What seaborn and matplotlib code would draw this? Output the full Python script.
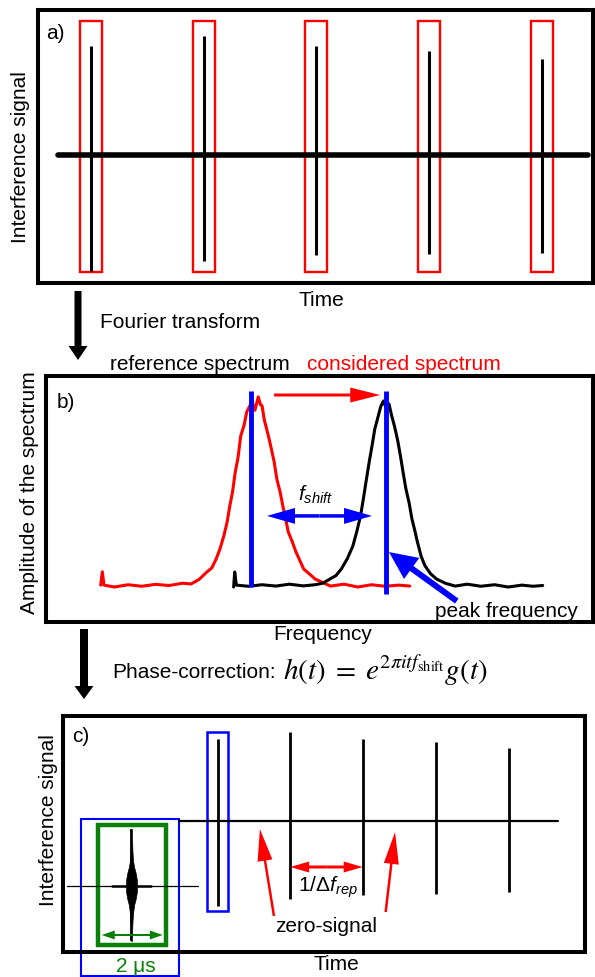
import matplotlib
matplotlib.use("Agg")
import matplotlib.pyplot as plt
import pandas as pd
import seaborn as sns
from matplotlib.patches import Rectangle, FancyArrow

# ---------------- data ----------------
# panel a: interferograms (time, signal)
a_peak_times = [0.96, 2.99, 5.01, 7.05, 9.08]
a_peak_top = [1.09, 1.19, 1.09, 1.04, 0.96]
a_peak_bottom = [-1.16, -1.06, -1.00, -0.99, -0.98]
a_base_t = [0.36, 9.91]
a_base_v = [0.0, 0.0]

# panel b: spectra (frequency, amplitude)
cons_freq = [10.0, 10.3, 10.6, 12.5, 15.0, 17.5, 20.0, 22.5, 25.0, 26.5,
             28.0, 29.4, 30.3, 31.1, 31.8, 32.5, 33.1, 33.6, 34.1, 34.6,
             35.1, 35.6, 36.2, 36.7, 37.2, 37.7, 38.2, 38.8, 39.2, 39.5,
             39.9, 40.2, 40.7, 41.2, 41.7, 42.2, 42.8, 43.3, 43.8, 44.3,
             45.0, 45.7, 46.4, 47.1, 48.1, 49.2, 50.5, 52.0, 54.5, 57.0,
             59.5, 62.0, 64.5, 66.5]
cons_amp = [0.01, 0.08, 0.01, 0.0, 0.012, 0.004, 0.014, 0.008, 0.02, 0.016,
            0.04, 0.079, 0.10, 0.147, 0.20, 0.268, 0.34, 0.426, 0.50, 0.605,
            0.68, 0.795, 0.85, 0.921, 0.95, 0.974, 0.93, 1.0, 0.96, 0.953,
            0.88, 0.847, 0.79, 0.726, 0.66, 0.568, 0.50, 0.426, 0.36, 0.289,
            0.24, 0.184, 0.14, 0.095, 0.07, 0.042, 0.025, 0.005, 0.015, 0.0,
            0.012, 0.004, 0.01, 0.005]
ref_freq = [34.3, 34.5, 34.8, 37.0, 39.5, 42.0, 44.5, 47.0, 49.2, 50.6,
            51.9, 53.0, 54.0, 55.1, 56.1, 56.8, 57.5, 58.0, 58.5, 59.1,
            59.6, 60.1, 60.6, 61.2, 61.7, 62.2, 62.7, 63.2, 63.7, 64.3,
            64.8, 65.3, 65.8, 66.4, 66.9, 67.4, 67.9, 68.6, 69.3, 70.3,
            71.4, 73.0, 74.8, 77.0, 79.5, 82.0, 84.5, 87.0, 89.0, 90.8]
ref_amp = [0.0, 0.079, 0.01, 0.004, 0.012, 0.005, 0.015, 0.006, 0.012, 0.02,
           0.042, 0.06, 0.095, 0.15, 0.216, 0.29, 0.374, 0.46, 0.553, 0.66,
           0.742, 0.83, 0.884, 0.95, 0.979, 0.94, 0.963, 0.90, 0.847, 0.77,
           0.689, 0.60, 0.516, 0.44, 0.358, 0.30, 0.237, 0.16, 0.111, 0.07,
           0.042, 0.02, 0.005, 0.015, 0.004, 0.012, 0.0, 0.01, 0.004, 0.008]
b_peak_freqs = [37.5, 62.2]

# panel c: corrected interferograms
c_peak_times = [2.97, 4.36, 5.75, 7.15, 8.55]
c_peak_top = [0.82, 0.89, 0.82, 0.79, 0.73]
c_peak_bottom = [-0.85, -0.78, -0.74, -0.73, -0.71]
c_base_t = [2.23, 9.49]
c_base_v = [0.0, 0.0]
# zoomed interferogram (inset)
inset_t = [0.08, 2.59]
inset_v = [-0.65, -0.65]
burst_center = 1.32
burst_v = [-0.08, -0.20, -0.30, -0.40, -0.46, -0.52, -0.58, -0.65,
           -0.72, -0.78, -0.84, -0.92, -1.00, -1.10, -1.20]
burst_hw = [0.006, 0.012, 0.018, 0.03, 0.05, 0.08, 0.10, 0.11,
            0.10, 0.08, 0.05, 0.03, 0.02, 0.012, 0.006]

# ---------------- style ----------------
sns.set_theme(style="white")
plt.rcParams["font.family"] = ["Liberation Sans", "DejaVu Sans"]
plt.rcParams["text.color"] = "black"
plt.rcParams["axes.labelcolor"] = "black"
plt.rcParams["mathtext.fontset"] = "custom"
plt.rcParams["mathtext.it"] = "Liberation Sans:italic"
plt.rcParams["mathtext.rm"] = "Liberation Sans"
plt.rcParams["mathtext.bf"] = "Liberation Sans:bold"

RED, BLUE, GREEN = "#ff0000", "#0000ff", "#0a800a"
FS = 15
W, H = 595, 978
fig = plt.figure(figsize=(W / 100, H / 100), dpi=100)


def axes_px(x0, y0, x1, y1):
    return fig.add_axes([x0 / W, 1 - y1 / H, (x1 - x0) / W, (y1 - y0) / H])


axA = axes_px(38, 11, 593, 284)
axB = axes_px(46, 377, 593, 623)
axC = axes_px(62.6, 717, 584.5, 953)
axA.set_xlim(0, 10); axA.set_ylim(-1.28, 1.45)
axB.set_xlim(0, 100); axB.set_ylim(-0.184, 1.11)
axC.set_xlim(0, 10); axC.set_ylim(-1.31, 1.05)

for ax in (axA, axB, axC):
    ax.set_xticks([]); ax.set_yticks([])
    for s in ax.spines.values():
        s.set_visible(True); s.set_color("black"); s.set_linewidth(2.9)
    ax.set_facecolor("white")

ov = fig.add_axes([0, 0, 1, 1], zorder=10)
ov.set_xlim(0, W); ov.set_ylim(H, 0); ov.axis("off"); ov.patch.set_alpha(0)


def to_px(ax, x, y):
    X, Y = ax.transData.transform((x, y))
    return X, H - Y


def arrow(p0, p1, width, hw, hl, color):
    ov.add_patch(FancyArrow(p0[0], p0[1], p1[0] - p0[0], p1[1] - p0[1], width=width,
                            head_width=hw, head_length=hl, length_includes_head=True,
                            color=color, lw=0))


def darrow(ax, x0, x1, y, width, hw, hl, color):
    a, b = to_px(ax, x0, y), to_px(ax, x1, y)
    m = ((a[0] + b[0]) / 2, (a[1] + b[1]) / 2)
    arrow(m, a, width, hw, hl, color)
    arrow(m, b, width, hw, hl, color)


def label(x, y, s, rot=0, **kw):
    ov.text(x, y, s, fontsize=FS, ha="center", va="center", rotation=rot,
            color="black", **kw)


# ---------------- panel a ----------------
sns.lineplot(x=a_base_t, y=a_base_v, ax=axA, color="black", lw=4)
axA.vlines(a_peak_times, a_peak_bottom, a_peak_top, color="black", lw=2.2)
for t in a_peak_times:
    axA.add_patch(Rectangle((t - 0.198, -1.17), 0.396, 2.51, fill=False, ec=RED, lw=1.7))
axA.text(0.014, 0.919, "a)", transform=axA.transAxes, fontsize=FS, va="center")
axA.set_xlabel(""); axA.set_ylabel("")
label(321, 300, "Time")
label(21, 157, "Interference signal", rot=90)

# ---------------- panel b ----------------
df_cons = pd.DataFrame({"freq": cons_freq, "amp": cons_amp})
df_ref = pd.DataFrame({"freq": ref_freq, "amp": ref_amp})
sns.lineplot(data=df_cons, x="freq", y="amp", ax=axB, color=RED, lw=2.2,
             estimator=None, sort=False)
sns.lineplot(data=df_ref, x="freq", y="amp", ax=axB, color="black", lw=2.2,
             estimator=None, sort=False)
axB.vlines(b_peak_freqs, [0.0, -0.037], [1.03, 1.03], color=BLUE, lw=3.5, zorder=5)
axB.set_xlabel(""); axB.set_ylabel("")
axB.text(0.02, 0.898, "b)", transform=axB.transAxes, fontsize=FS, va="center")
label(323, 634, "Frequency")
label(30, 493, "Amplitude of the spectrum", rot=90)
axB.text(49.2, 0.49, r"$f_{shift}$", fontsize=FS, ha="center", va="center")
axB.text(84.1, -0.121, "peak frequency", fontsize=FS, ha="center", va="center")
arrow(to_px(axB, 41.7, 1.01), to_px(axB, 61.1, 1.01), 3, 15, 30, RED)
darrow(axB, 40.4, 59.6, 0.374, 3.5, 16, 28, BLUE)
arrow(to_px(axB, 75.1, -0.074), to_px(axB, 62.7, 0.184), 6, 26, 28, BLUE)

# ---------------- panel c ----------------
sns.lineplot(x=c_base_t, y=c_base_v, ax=axC, color="black", lw=1.6)
axC.vlines(c_peak_times, c_peak_bottom, c_peak_top, color="black", lw=2)
axC.add_patch(Rectangle((2.77, -0.90), 0.40, 1.79, fill=False, ec=BLUE, lw=1.8))
axC.add_patch(Rectangle((0.35, -1.55), 1.88, 1.57, fill=False, ec=BLUE, lw=1.5, clip_on=False))
axC.add_patch(Rectangle((0.68, -1.24), 1.30, 1.20, fill=False, ec=GREEN, lw=3.2, clip_on=False))
axC.plot(inset_t, inset_v, color="black", lw=0.9)
axC.plot([0.95, 1.70], [-0.65, -0.65], color="black", lw=1.8)
axC.fill_betweenx(burst_v, [burst_center - w for w in burst_hw],
                  [burst_center + w for w in burst_hw], color="black", lw=0.5)
axC.vlines([burst_center], [burst_v[-1]], [burst_v[0]], color="black", lw=1.3)
axC.set_xlabel(""); axC.set_ylabel("")
axC.text(0.018, 0.919, "c)", transform=axC.transAxes, fontsize=FS, va="center")
label(336, 964, "Time")
label(49, 820, "Interference signal", rot=90)
axC.text(1.40, -1.45, "2 μs", fontsize=FS, ha="center", va="center", color=GREEN, clip_on=False)
axC.text(5.08, -0.65, "1/Δ$f_{rep}$", fontsize=FS, ha="center", va="center")
axC.text(5.05, -1.05, "zero-signal", fontsize=FS, ha="center", va="center")
darrow(axC, 4.36, 5.75, -0.46, 3, 11, 19, RED)
darrow(axC, 0.75, 1.92, -1.14, 2, 9, 13, GREEN)
arrow(to_px(axC, 4.05, -0.95), to_px(axC, 3.78, -0.08), 2.5, 15, 32, RED)
arrow(to_px(axC, 6.19, -0.91), to_px(axC, 6.37, -0.11), 2.5, 15, 32, RED)

# ---------------- between panels ----------------
arrow((78, 292), (78, 361), 7, 19, 14, "black")
arrow((84, 630), (84, 700), 8, 19, 13, "black")
ov.text(100, 322, "Fourier transform", fontsize=FS, va="center")
ov.text(110, 365, "reference spectrum", fontsize=FS, va="center")
ov.text(307, 365, "considered spectrum", fontsize=FS, va="center", color=RED)
ov.text(112, 673, "Phase-correction:", fontsize=FS, va="center")
ov.text(283, 671, r"$h(t)\;=\;e^{2\pi i t f_{\mathrm{shift}}}g(t)$",
        fontsize=21, va="center", math_fontfamily="stix")

fig.savefig("out.png", dpi=100)
